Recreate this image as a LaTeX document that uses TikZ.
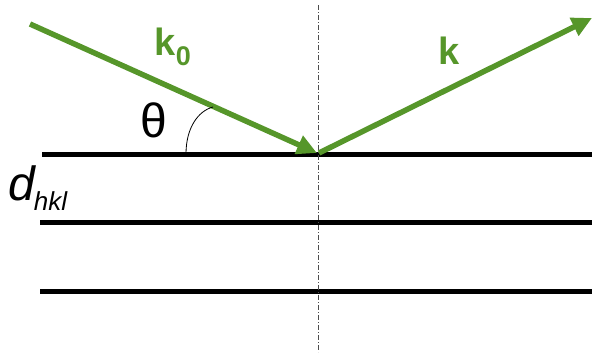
\documentclass[tikz,border=0pt]{standalone}
\usepackage{fontspec}
\setmainfont{Liberation Sans}
\usetikzlibrary{arrows.meta}
\definecolor{beamgreen}{RGB}{86,150,42}
\tikzset{
  plane/.style={line width=5pt},
  beam/.style={line width=5.5pt, beamgreen, -{Triangle[length=20pt,width=19pt]}},
  normal/.style={line width=0.9pt, black!70, dash pattern=on 5pt off 2pt on 1pt off 2pt},
  lbl/.style={inner sep=0pt, font=\fontsize{38}{40}\selectfont}
}
\begin{document}
\begin{tikzpicture}[x=1pt,y=1pt,yscale=-1]
\useasboundingbox (0,0) rectangle (592,356);

% points
\coordinate (src) at (30,24);
\coordinate (hit) at (317,153);
\coordinate (out) at (319,153);
\coordinate (dst) at (592,18);
\coordinate (ntop) at (318,5);
\coordinate (nbot) at (318,352);

%Straight Lines: lattice planes
\coordinate (p1a) at (42,154);  \coordinate (p1b) at (592,154);
\coordinate (p2a) at (40,222);  \coordinate (p2b) at (592,222);
\coordinate (p3a) at (40,291);  \coordinate (p3b) at (592,291);
\draw [plane] (p1a) -- (p1b);
\draw [plane] (p2a) -- (p2b);
\draw [plane] (p3a) -- (p3b);

%Straight Lines: normal
\draw [normal] (ntop) -- (nbot);

%Straight Lines: beams
\draw [beam] (src) -- (hit);
\draw [beam] (out) -- (dst);

%Shape: Arc
\coordinate (arcA) at (186,154);
\coordinate (arcB) at (213,107);
\draw [line width=0.8pt] (arcA) .. controls (186,128) and (198,111) .. (arcB);

% Text Node
\node [lbl, beamgreen, font=\fontsize{38}{40}\selectfont\bfseries] (k0) at (173,47) {k\textsubscript{\fontsize{27}{28}\selectfont 0}};
% Text Node
\node [lbl, beamgreen, font=\fontsize{38}{40}\selectfont\bfseries] (k) at (449,51) {k};
% Text Node
\node [lbl, font=\fontsize{48}{50}\selectfont] (theta) at (154,120) {θ};
% Text Node
\node [lbl, anchor=west, font=\fontsize{48}{50}\selectfont\itshape] (dhkl) at (8,188) {d\kern-1pt\textsubscript{\fontsize{26}{28}\selectfont hkl}};
\end{tikzpicture}
\end{document}
